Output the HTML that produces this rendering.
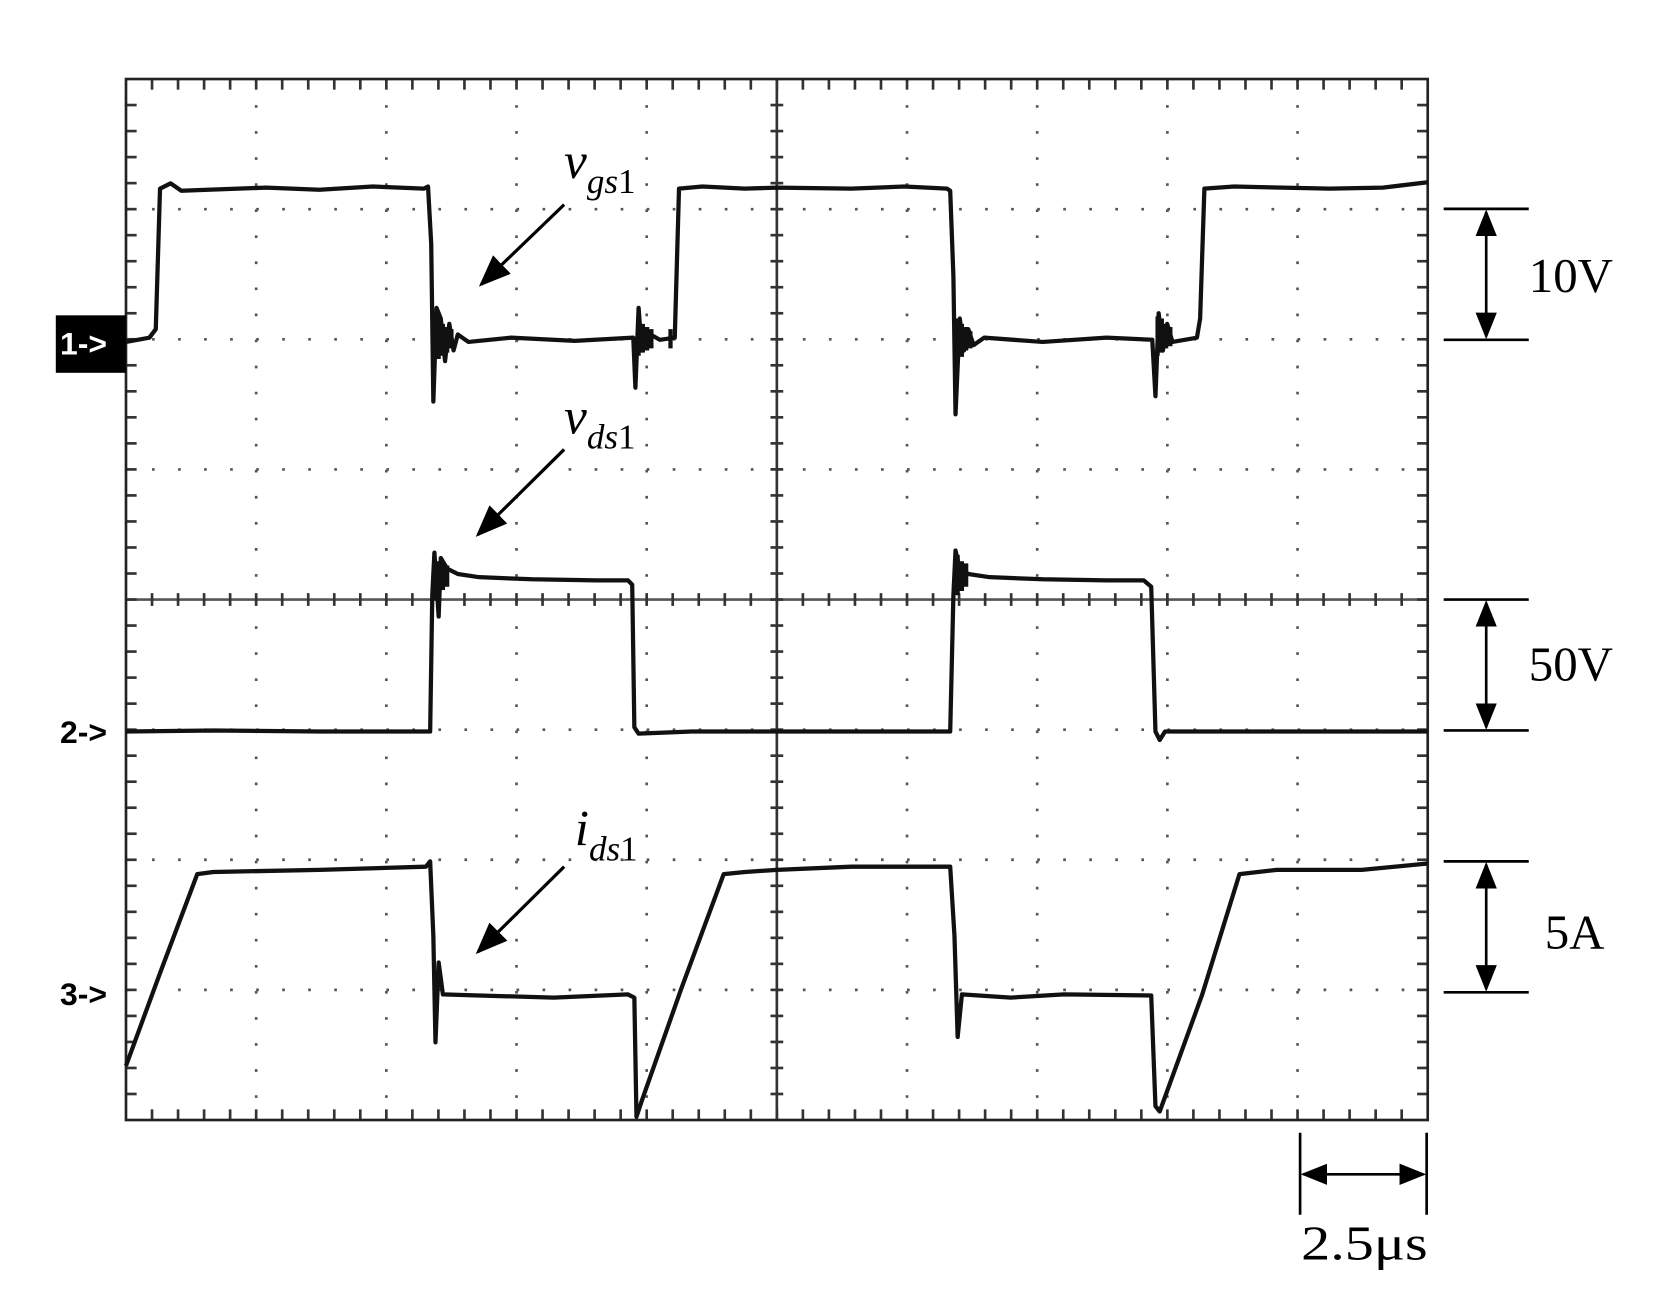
<!DOCTYPE html>
<html><head><meta charset="utf-8"><style>
html,body{margin:0;padding:0;background:#fff;}
svg{display:block;}
text{font-family:"Liberation Serif",serif;fill:#000;}
</style></head><body>
<svg width="1667" height="1313" viewBox="0 0 1667 1313" xmlns="http://www.w3.org/2000/svg">
<defs>
<marker id="ah" markerWidth="10" markerHeight="8" refX="9" refY="4" orient="auto-start-reverse" markerUnits="strokeWidth"><path d="M0,0 L10,4 L0,8 z" fill="#000"/></marker>
</defs>
<g transform="matrix(1.0635 0 0 1.0644 0.5 -0.8)">
<g stroke="#555" stroke-width="2.5" stroke-dasharray="2.5 21.98">
<line x1="118" y1="197.25" x2="1342" y2="197.25"/>
<line x1="118" y1="319.5" x2="1342" y2="319.5"/>
<line x1="118" y1="441.75" x2="1342" y2="441.75"/>
<line x1="118" y1="686.25" x2="1342" y2="686.25"/>
<line x1="118" y1="808.5" x2="1342" y2="808.5"/>
<line x1="118" y1="930.75" x2="1342" y2="930.75"/>
<line x1="240.4" y1="75" x2="240.4" y2="1053"/>
<line x1="362.8" y1="75" x2="362.8" y2="1053"/>
<line x1="485.2" y1="75" x2="485.2" y2="1053"/>
<line x1="607.6" y1="75" x2="607.6" y2="1053"/>
<line x1="852.4" y1="75" x2="852.4" y2="1053"/>
<line x1="974.8" y1="75" x2="974.8" y2="1053"/>
<line x1="1097.2" y1="75" x2="1097.2" y2="1053"/>
<line x1="1219.6" y1="75" x2="1219.6" y2="1053"/>
</g>
<line x1="118" y1="564" x2="1342" y2="564" stroke="#555" stroke-width="2.5"/>
<line x1="730" y1="75" x2="730" y2="1053" stroke="#333" stroke-width="2.5"/>
<g id="ticks" stroke="#333" stroke-width="2.5"></g>
<rect x="118" y="75" width="1224" height="978" fill="none" stroke="#222" stroke-width="2.5"/>

<g fill="none" stroke="#111" stroke-width="4" stroke-linejoin="round">
<polyline points="118,322 140,318 146,310 150,178 160,173 170,180 250,177 300,179 350,176 398,178 402,176 405,230 407,378 410,290 414,300 418,340 422,305 426,330 430,315 440,322 480,318 540,321 595,318 597,365 600,290 603,330 606,312 620,320 634,318 638,178 660,176 700,178 730,177 800,178 850,176 890,178 893,180 896,260 898,390 902,300 906,330 910,310 915,325 925,318 980,322 1040,318 1083,320 1086,373 1089,295 1093,330 1097,305 1102,322 1125,318 1128,300 1132,178 1160,176 1250,178 1300,177 1342,172"/>
<path d="M408 298 V340 M412 300 V338 M416 305 V335 M420 308 V332 M424 310 V328 M600 300 V335 M604 305 V332 M608 308 V330 M612 310 V328 M630 310 V328 M900 300 V340 M904 305 V336 M908 308 V330 M912 312 V328 M1088 298 V335 M1092 300 V332 M1096 305 V328 M1100 308 V326"/>
<polyline points="118,688 200,687 300,688 404,688 406,560 408,520 412,580 414,525 420,535 430,540 450,543 500,545 560,546 590,546 594,550 596,684 600,690 650,688 730,688 800,688 893,688 896,560 898,518 902,535 910,540 930,543 980,545 1040,546 1075,546 1082,552 1086,688 1090,696 1095,688 1150,688 1250,688 1342,688"/>
<path d="M408 525 V565 M412 528 V560 M416 530 V555 M420 532 V552 M900 522 V560 M904 528 V556 M908 530 V552"/>
<polyline points="118,1002 150,915 185,822 200,820 300,818 400,815 404,810 407,880 409,980 412,905 416,935 450,936 520,938 590,935 596,938 598,1050 603,1035 640,930 680,822 700,820 730,818 800,815 893,815 897,880 900,975 904,935 950,938 1000,935 1082,936 1086,1040 1090,1045 1130,935 1165,822 1200,818 1280,818 1342,812"/>
</g>

<rect x="52" y="297" width="66" height="54" fill="#000"/>
<text x="56" y="334" font-size="30" font-weight="bold" style="fill:#fff;font-family:'Liberation Sans',sans-serif">1-&gt;</text>
<text x="56" y="699" style="font-family:'Liberation Sans',sans-serif" font-size="30" font-weight="bold" fill="#222">2-&gt;</text>
<text x="56" y="945" style="font-family:'Liberation Sans',sans-serif" font-size="30" font-weight="bold" fill="#222">3-&gt;</text>

<g font-size="48">
<text x="530" y="168"><tspan font-style="italic">v</tspan><tspan font-style="italic" font-size="33" dy="14">gs</tspan><tspan font-size="33">1</tspan></text>
<text x="530" y="408"><tspan font-style="italic">v</tspan><tspan font-style="italic" font-size="33" dy="14">ds</tspan><tspan font-size="33">1</tspan></text>
<text x="540" y="795"><tspan font-style="italic">i</tspan><tspan font-style="italic" font-size="33" dy="14">ds</tspan><tspan font-size="33">1</tspan></text>
</g>
<g stroke="#000" stroke-width="3">
<line x1="530" y1="193" x2="452" y2="268" marker-end="url(#ah)"/>
<line x1="530" y1="423" x2="449" y2="503" marker-end="url(#ah)"/>
<line x1="530" y1="815" x2="449" y2="895" marker-end="url(#ah)"/>
</g>

<g stroke="#000" stroke-width="2.5">
<line x1="1357" y1="197" x2="1437" y2="197"/><line x1="1357" y1="320" x2="1437" y2="320"/>
<line x1="1397" y1="200" x2="1397" y2="317" marker-start="url(#ah)" marker-end="url(#ah)"/>
<line x1="1357" y1="564" x2="1437" y2="564"/><line x1="1357" y1="687" x2="1437" y2="687"/>
<line x1="1397" y1="567" x2="1397" y2="684" marker-start="url(#ah)" marker-end="url(#ah)"/>
<line x1="1357" y1="810" x2="1437" y2="810"/><line x1="1357" y1="933" x2="1437" y2="933"/>
<line x1="1397" y1="813" x2="1397" y2="930" marker-start="url(#ah)" marker-end="url(#ah)"/>
<line x1="1222" y1="1065" x2="1222" y2="1142"/><line x1="1341" y1="1065" x2="1341" y2="1142"/>
<line x1="1225" y1="1104" x2="1338" y2="1104" marker-start="url(#ah)" marker-end="url(#ah)"/>
</g>
<g font-size="46">
<text x="1437" y="275">10V</text>
<text x="1437" y="640">50V</text>
<text x="1452" y="892">5A</text>
<text x="1223" y="1184" textLength="119" lengthAdjust="spacingAndGlyphs">2.5μs</text>
</g>
</g>
<script>
(function(){
var g=document.getElementById('ticks');var ns='http://www.w3.org/2000/svg';
function L(a,b,c,d){var l=document.createElementNS(ns,'line');l.setAttribute('x1',a);l.setAttribute('y1',b);l.setAttribute('x2',c);l.setAttribute('y2',d);g.appendChild(l);}
var dx=24.48,dy=24.45;
for(var i=1;i<50;i++){var x=118+i*dx;L(x,75,x,85);L(x,1043,x,1053);L(x,558,x,570);}
for(var j=1;j<40;j++){var y=75+j*dy;L(118,y,128,y);L(1332,y,1342,y);L(724,y,736,y);}
})();
</script>
</svg>
</body></html>
